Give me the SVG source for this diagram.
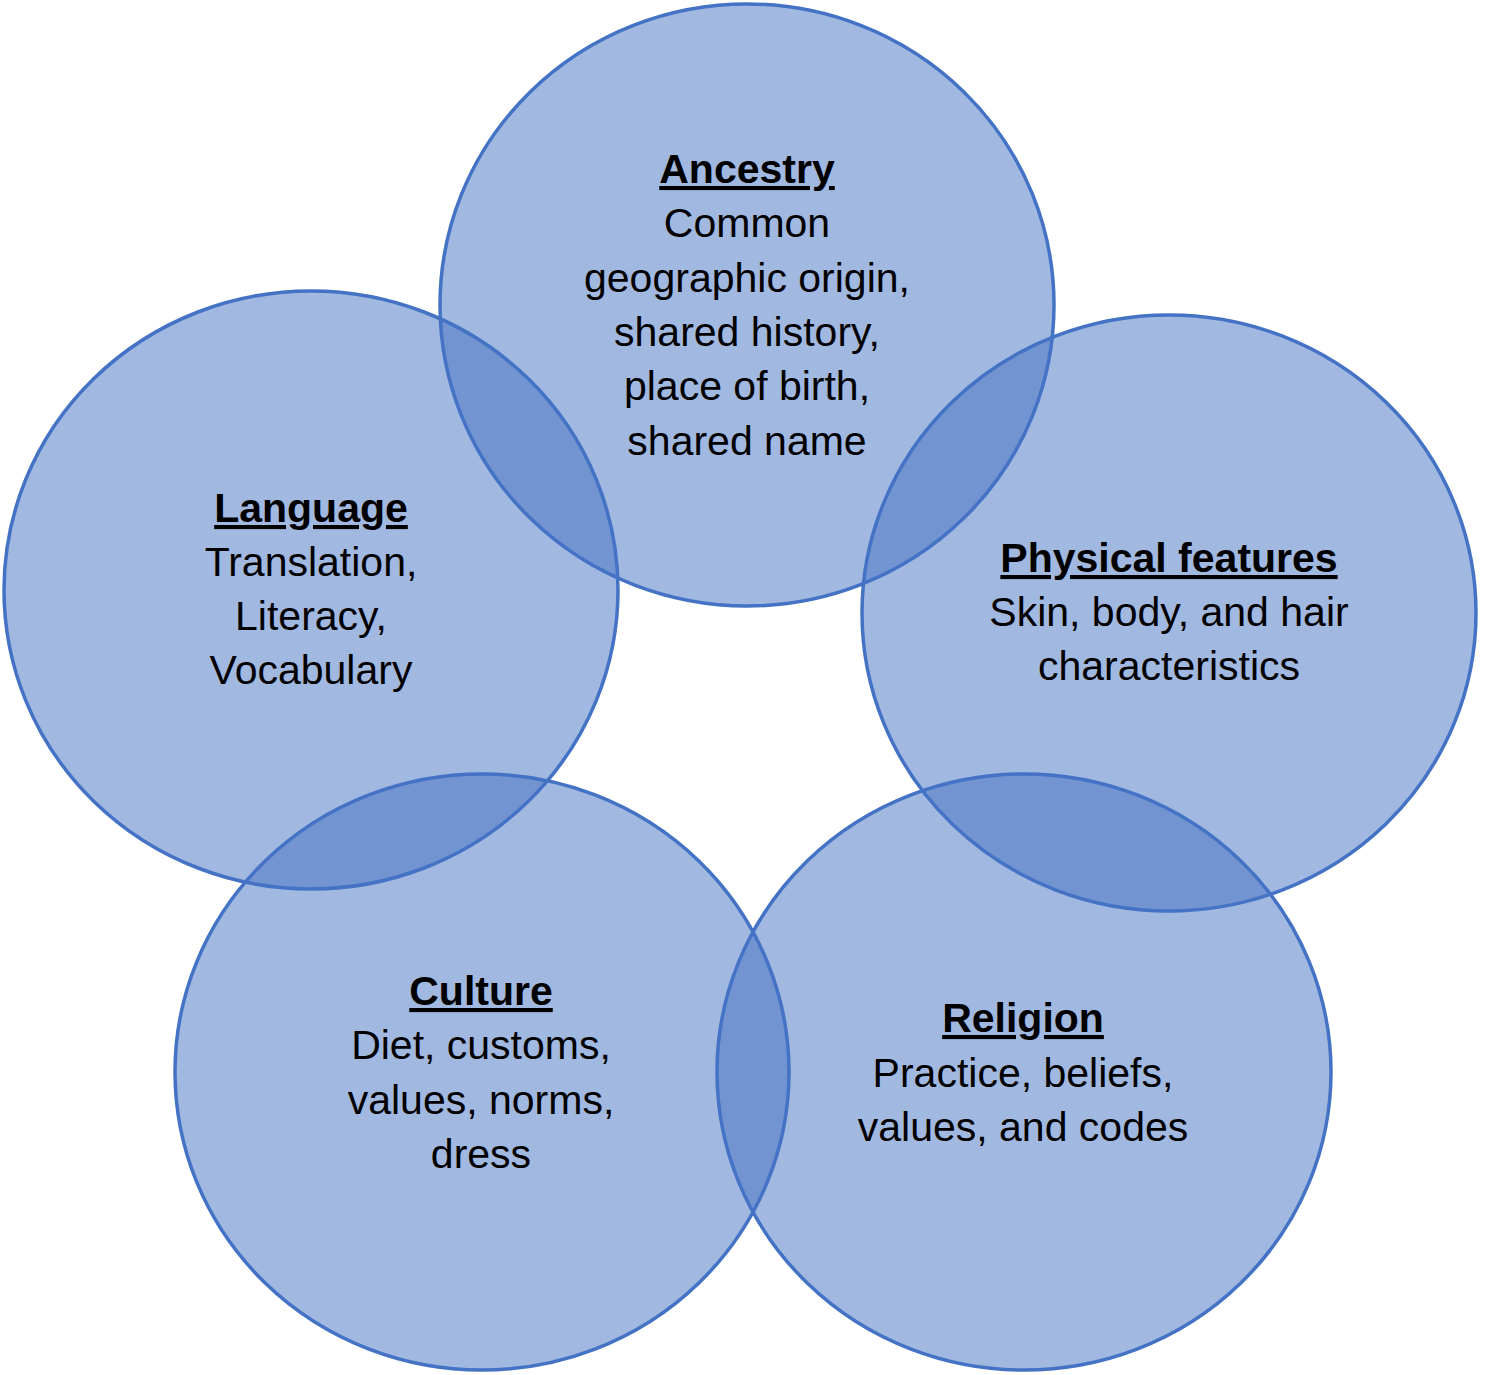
<svg xmlns="http://www.w3.org/2000/svg" width="1485" height="1375" viewBox="0 0 1485 1375">
<style>
.c{fill:#4472C4;fill-opacity:0.5;stroke:#4472C4;stroke-width:3.5}
text{font-family:"Liberation Sans",Arial,sans-serif;font-size:41px;fill:#000;text-anchor:middle}
.t{font-weight:bold;text-decoration:underline;text-decoration-skip-ink:none;text-decoration-thickness:3.5px;text-underline-offset:5px}
</style>
<rect width="1485" height="1375" fill="#fff"/>
<g id="ancestry">
<ellipse class="c" cx="747" cy="305" rx="307" ry="301"/>
<text x="747" y="183" class="t">Ancestry</text>
<text x="747" y="237">Common</text>
<text x="747" y="292">geographic origin,</text>
<text x="747" y="346">shared history,</text>
<text x="747" y="400">place of birth,</text>
<text x="747" y="455">shared name</text>
</g>
<g id="physical">
<ellipse class="c" cx="1169" cy="613" rx="307" ry="298"/>
<text x="1169" y="572" class="t">Physical features</text>
<text x="1169" y="626">Skin, body, and hair</text>
<text x="1169" y="680">characteristics</text>
</g>
<g id="religion">
<ellipse class="c" cx="1024" cy="1072" rx="307" ry="298"/>
<text x="1023" y="1032" class="t">Religion</text>
<text x="1023" y="1087">Practice, beliefs,</text>
<text x="1023" y="1141">values, and codes</text>
</g>
<g id="culture">
<ellipse class="c" cx="482" cy="1072" rx="307" ry="298"/>
<text x="481" y="1005" class="t">Culture</text>
<text x="481" y="1059">Diet, customs,</text>
<text x="481" y="1114">values, norms,</text>
<text x="481" y="1168">dress</text>
</g>
<g id="language">
<ellipse class="c" cx="311" cy="590" rx="307" ry="299"/>
<text x="311" y="522" class="t">Language</text>
<text x="311" y="576">Translation,</text>
<text x="311" y="630">Literacy,</text>
<text x="311" y="684">Vocabulary</text>
</g>
<g id="connectors"/>
</svg>
